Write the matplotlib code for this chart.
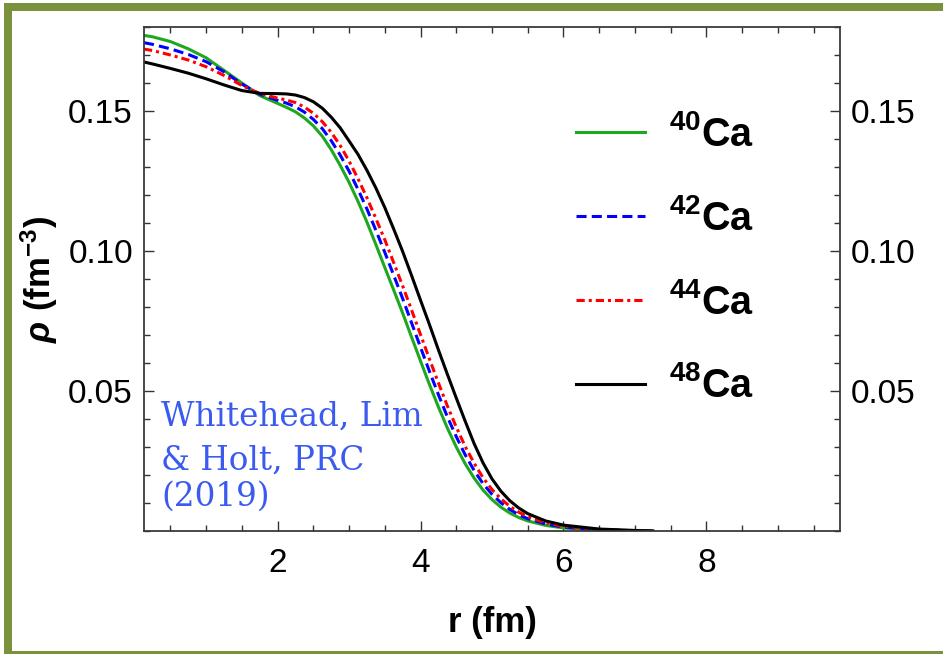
import matplotlib

matplotlib.use('Agg')
import matplotlib.pyplot as plt
from matplotlib.patches import Rectangle
from matplotlib.ticker import MultipleLocator, FormatStrFormatter

plt.rcParams['font.family'] = ['Liberation Sans', 'DejaVu Sans']
plt.rcParams['mathtext.fontset'] = 'custom'
plt.rcParams['mathtext.rm'] = 'Liberation Sans:bold'
plt.rcParams['mathtext.bf'] = 'Liberation Sans:bold'
plt.rcParams['mathtext.it'] = 'Liberation Sans:italic:bold'

# radius grid (fm) and densities (fm^-3)
r = [0.13, 0.25, 0.5, 0.75, 1.0, 1.25, 1.5, 1.75,
     2.0, 2.125, 2.25, 2.375, 2.5, 2.625, 2.75, 2.875, 3.0, 3.125, 3.25, 3.375,
     3.5, 3.625, 3.75, 3.875, 4.0, 4.125, 4.25, 4.375, 4.5, 4.625, 4.75, 4.875,
     5.0, 5.125, 5.25, 5.375, 5.5, 5.75, 6.0, 6.5, 7.0, 7.25]

rho_ca40 = [0.1770, 0.1765, 0.1748, 0.1722, 0.1690, 0.1645, 0.1600, 0.1555,
            0.1527, 0.1513, 0.1497, 0.1475, 0.1447, 0.1410, 0.1362, 0.1306, 0.1245, 0.1177, 0.1103, 0.1023,
            0.0941, 0.0860, 0.0778, 0.0692, 0.0607, 0.0523, 0.0443, 0.0368, 0.0300, 0.0240, 0.0189, 0.0146,
            0.0112, 0.0085, 0.0064, 0.0048, 0.0036, 0.0020, 0.0011, 0.0003, 0.0001, 0.0]
rho_ca42 = [0.1744, 0.1738, 0.1722, 0.1702, 0.1676, 0.1640, 0.1596, 0.1560,
            0.1538, 0.1528, 0.1515, 0.1496, 0.1470, 0.1437, 0.1394, 0.1343, 0.1285, 0.1220, 0.1150, 0.1074,
            0.0995, 0.0913, 0.0830, 0.0743, 0.0656, 0.0570, 0.0487, 0.0408, 0.0337, 0.0272, 0.0216, 0.0169,
            0.0131, 0.0101, 0.0077, 0.0058, 0.0044, 0.0025, 0.0014, 0.0004, 0.0001, 0.0]
rho_ca44 = [0.1721, 0.1716, 0.1700, 0.1682, 0.1658, 0.1627, 0.1591, 0.1562,
            0.1546, 0.1539, 0.1530, 0.1514, 0.1492, 0.1462, 0.1424, 0.1377, 0.1321, 0.1258, 0.1190, 0.1116,
            0.1040, 0.0958, 0.0875, 0.0789, 0.0701, 0.0614, 0.0529, 0.0447, 0.0371, 0.0302, 0.0242, 0.0190,
            0.0148, 0.0115, 0.0088, 0.0067, 0.0051, 0.0029, 0.0017, 0.0005, 0.0001, 0.0]
rho_ca48 = [0.1675, 0.1668, 0.1652, 0.1635, 0.1615, 0.1593, 0.1573, 0.1563,
            0.1562, 0.1561, 0.1557, 0.1548, 0.1533, 0.1510, 0.1478, 0.1440, 0.1393, 0.1345, 0.1288, 0.1225,
            0.1155, 0.1078, 0.0998, 0.0912, 0.0824, 0.0737, 0.0647, 0.0560, 0.0475, 0.0392, 0.0312, 0.0243,
            0.0186, 0.0142, 0.0108, 0.0082, 0.0062, 0.0036, 0.0021, 0.0007, 0.0002, 0.0]

labels = [r'$\mathbf{^{40}Ca}$', r'$\mathbf{^{42}Ca}$', r'$\mathbf{^{44}Ca}$', r'$\mathbf{^{48}Ca}$']
x_ticks = [2, 4, 6, 8]
y_ticks = [0.05, 0.10, 0.15]

W, H = 943, 654
fig = plt.figure(figsize=(W / 100, H / 100), dpi=100)
ax = fig.add_axes([144 / W, 1 - 531 / H, 696 / W, 504 / H])

lw = 2.2
ax.plot(r, rho_ca40, color='#1fa81f', lw=lw, label=labels[0])
ax.plot(r, rho_ca42, color='#0000ff', lw=lw, dashes=(3.3, 1.7), label=labels[1])
ax.plot(r, rho_ca44, color='#ff0000', lw=lw, dashes=(2.7, 1.3, 1.0, 1.3), label=labels[2])
ax.plot(r, rho_ca48, color='black', lw=lw, label=labels[3])

ax.set_xlim(0.13, 9.87)
ax.set_ylim(0, 0.18)
ax.set_xticks(x_ticks)
ax.set_yticks(y_ticks)
ax.xaxis.set_minor_locator(MultipleLocator(0.5))
ax.yaxis.set_minor_locator(MultipleLocator(0.01))
ax.yaxis.set_major_formatter(FormatStrFormatter('%.2f'))

ax.tick_params(which='both', direction='in', top=True, right=True, labelright=True,
               labelsize=24, width=1, color='#333333')
ax.tick_params(which='major', length=7)
ax.tick_params(which='minor', length=4)
ax.tick_params(axis='x', pad=12)
ax.tick_params(axis='y', pad=8)
for s in ax.spines.values():
    s.set_color('#3a3a3a')
    s.set_linewidth(1.3)

ax.set_xlabel('r (fm)', fontsize=25, fontweight='bold', labelpad=20)
ax.set_ylabel(r'$\rho\ \mathrm{(fm^{-3})}$', fontsize=25, labelpad=6)

leg = ax.legend(loc='upper left', bbox_to_anchor=(0.62, 0.825), frameon=False,
                fontsize=28.5, handlelength=1.75, handletextpad=0.6, labelspacing=1.13,
                borderpad=0, borderaxespad=0)

cite_color = '#3b5bf0'
for txt, yy in [('Whitehead, Lim', 0.21), ('& Holt, PRC', 0.122), ('(2019)', 0.05)]:
    ax.text(0.025, yy, txt, transform=ax.transAxes, fontsize=23.5,
            family='DejaVu Serif', color=cite_color, va='baseline')

# slide frame: top, left and bottom bars (right side is cropped off)
frame_color = '#7a923c'
for x0, y0, x1, y1 in [(4, 3, W, 11), (4, 3, 12, H), (4, 651, W, H)]:
    fig.patches.append(Rectangle((x0 / W, 1 - y1 / H), (x1 - x0) / W, (y1 - y0) / H,
                                 transform=fig.transFigure, facecolor=frame_color,
                                 edgecolor='none'))

fig.savefig('out.png', dpi=100)
